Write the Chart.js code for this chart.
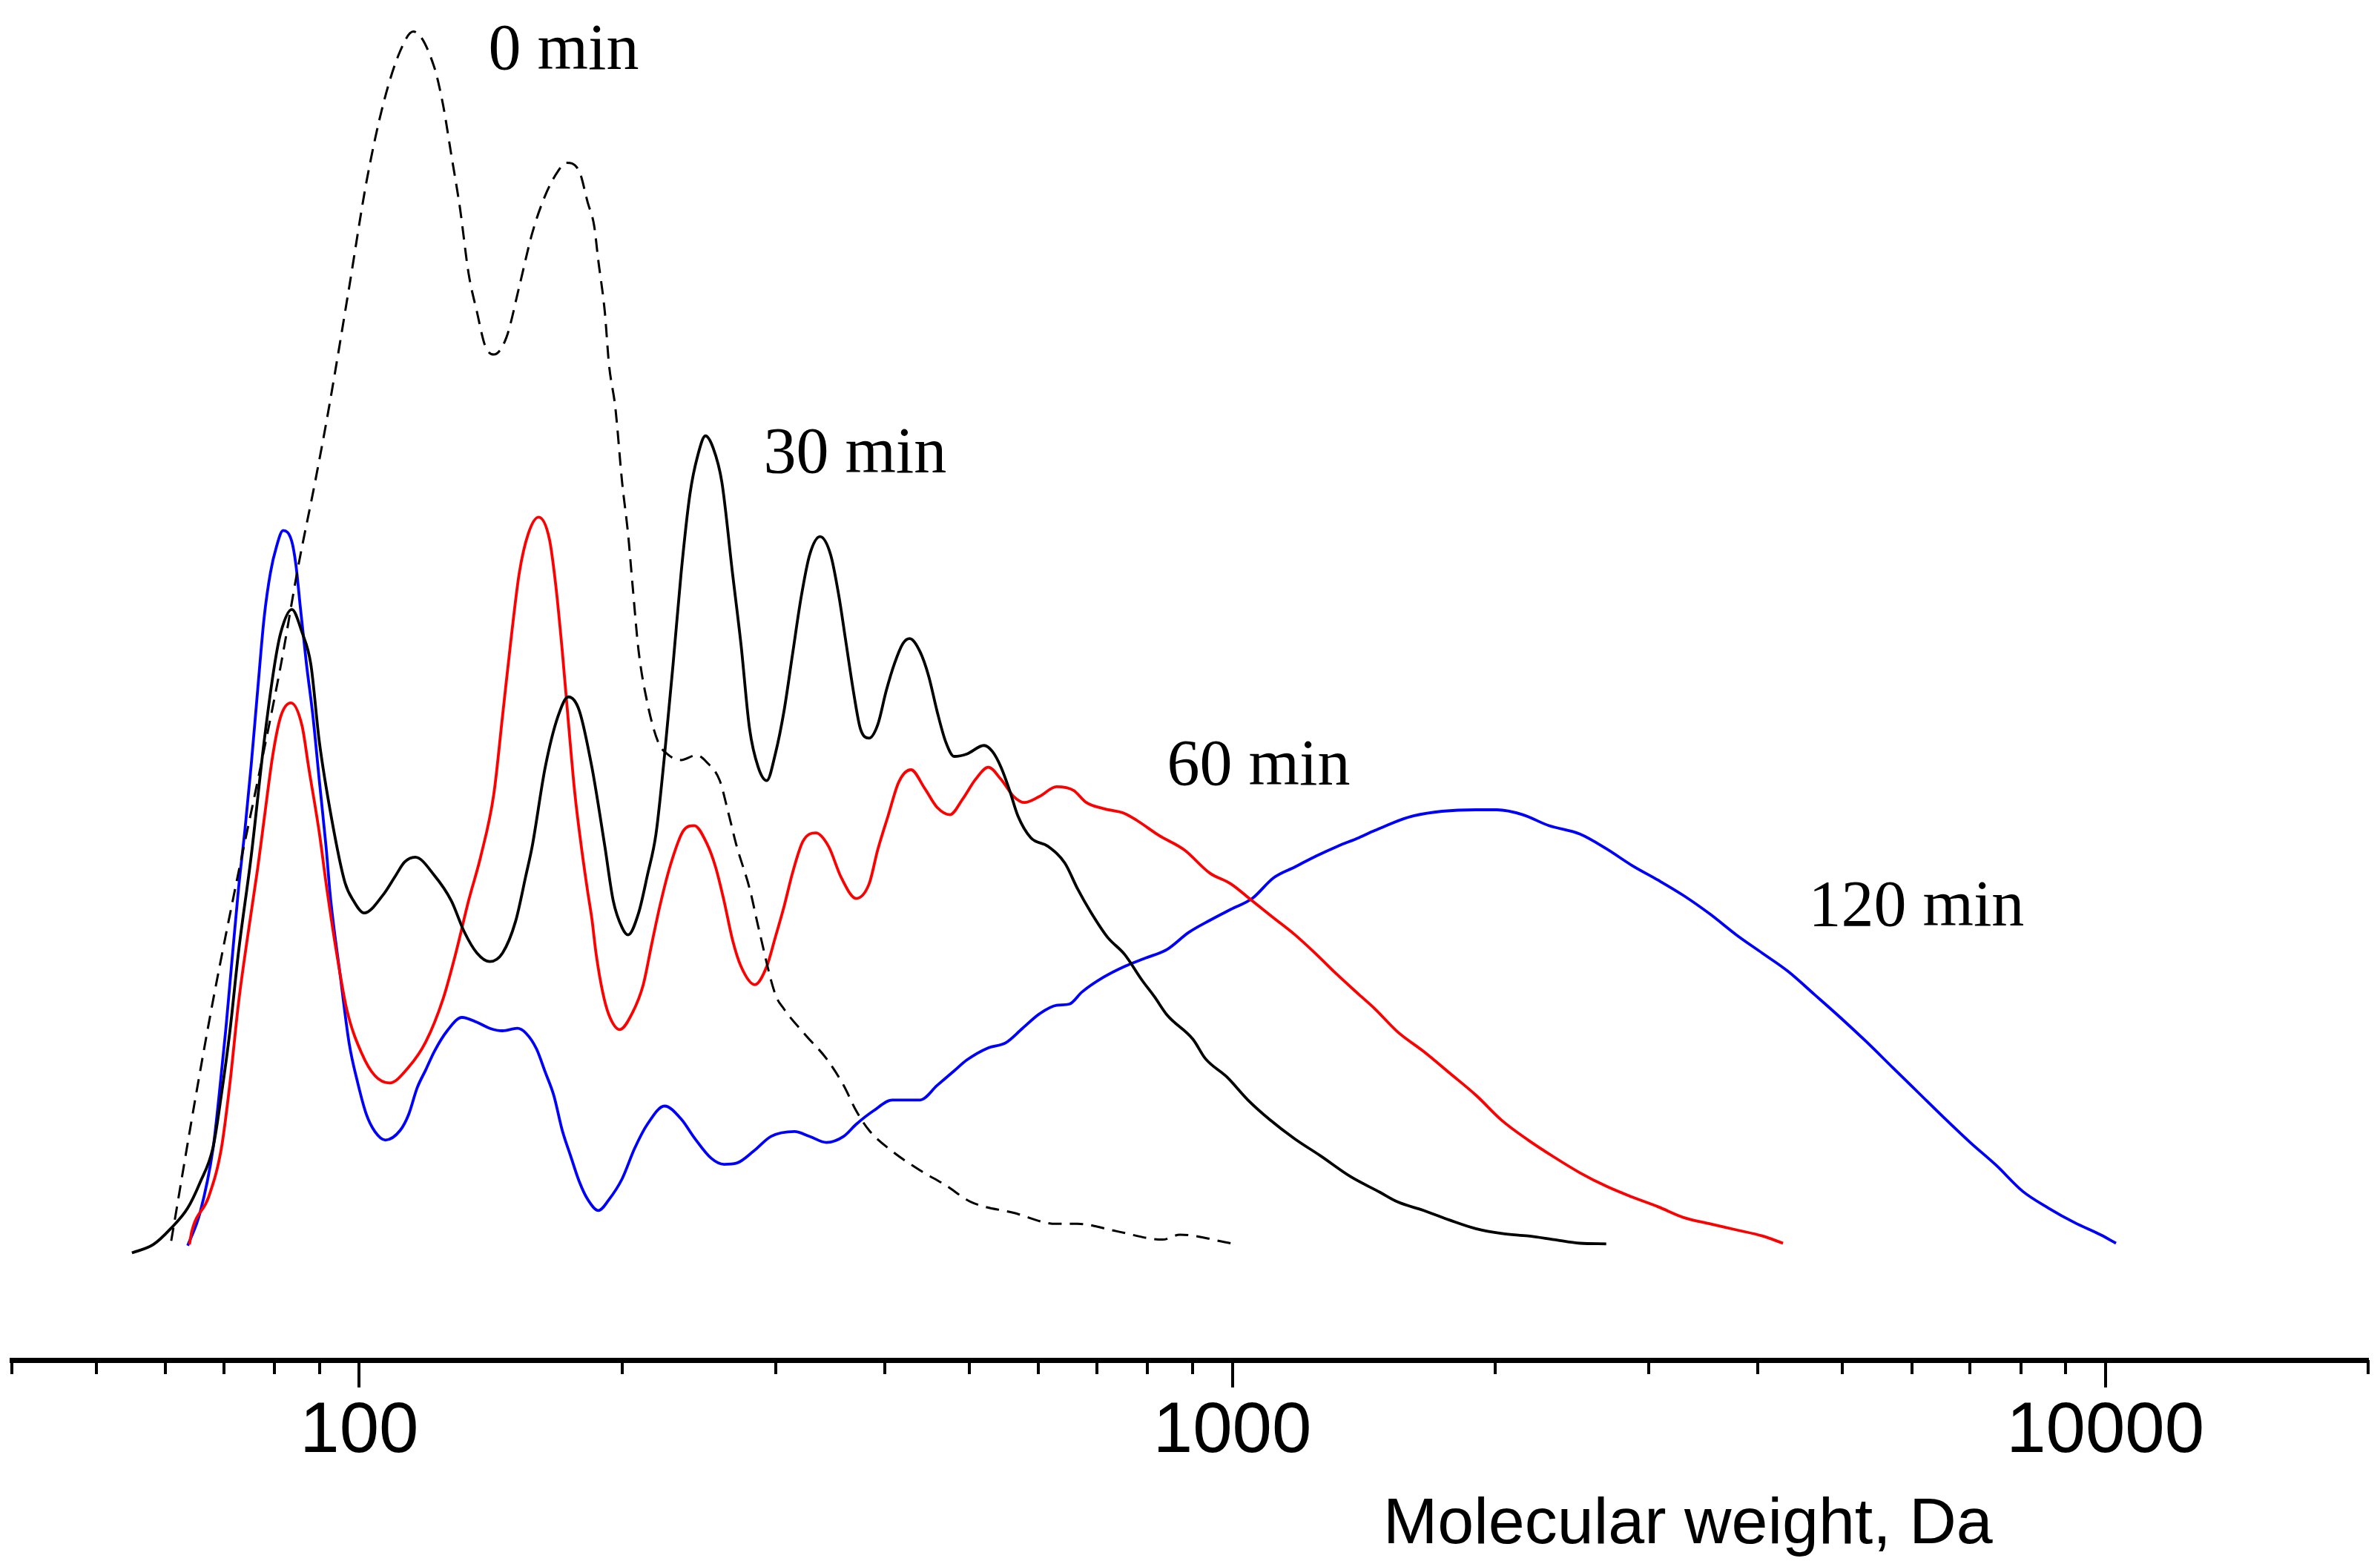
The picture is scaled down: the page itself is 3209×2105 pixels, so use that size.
<!DOCTYPE html>
<html>
<head>
<meta charset="utf-8">
<script src="https://cdn.jsdelivr.net/npm/chart.js@4"></script>
<style>
  html, body { margin: 0; padding: 0; background: #fff; overflow: hidden; }
  #wrap { width: 3209px; height: 2105px; }
</style>
</head>
<body>
<div id="wrap"><canvas id="mwChart"></canvas></div>
<script>
// molecular weight (Da) and relative intensity for each sampling time
const mw0 = [60.9, 65.0, 68.0, 72.6, 76.5, 81.4, 85.1, 89.0, 92.3, 97.4, 101.9, 106.5, 111.4, 115.3, 121.7, 124.7, 127.5, 130.4, 133.4, 136.4, 139.4, 142.6, 147.4, 152.5, 157.8, 163.3, 168.9, 172.7, 178.6, 182.7, 185.8, 187.8, 191.1, 193.2, 196.5, 200, 203.2, 205.6, 208.9, 213.8, 219.9, 226.2, 233.7, 243.3, 250.2, 258.8, 264.6, 270.6, 280, 286.8, 299.6, 306.5, 324, 342.9, 358.8, 370.9, 383.7, 405.8, 439, 469, 502, 562, 628, 665, 736, 832, 871, 996];
const int0 = [0.3, 12.3, 20.1, 30.4, 38.2, 47.9, 55.8, 62.8, 68.9, 78.9, 87.5, 93.9, 98.3, 99.9, 97.1, 93.9, 89.7, 85.4, 80.0, 76.8, 74.0, 73.3, 74.7, 78.9, 83.3, 86.4, 88.4, 89.1, 88.4, 85.8, 83.9, 81.1, 76.8, 72.5, 68.9, 62.8, 58.5, 54.3, 48.9, 44.6, 41.4, 40.3, 39.9, 40.3, 39.7, 38.2, 35.6, 32.8, 29.3, 26.0, 20.6, 19.4, 17.3, 15.3, 13.1, 11.0, 9.4, 7.8, 6.1, 4.9, 3.5, 2.6, 1.7, 1.7, 1.1, 0.4, 0.8, 0.1];

const mw30 = [54.9, 58.1, 60.8, 63.6, 65.7, 68.0, 69.5, 71.1, 72.7, 75.2, 77.8, 80.0, 81.3, 83.7, 86.0, 88.0, 90.0, 93.0, 96.3, 98.5, 101.3, 106.5, 110.1, 112.7, 115.9, 121.9, 127.5, 131.8, 136.4, 141.1, 145.9, 151.0, 155.2, 157.8, 163.3, 168.9, 173.6, 178.6, 184.7, 191.1, 195.4, 200, 203.2, 208.9, 213.8, 218.7, 223.7, 228.8, 233.7, 239.2, 244.2, 249.2, 254.3, 260.2, 267.6, 273.7, 279.9, 286.4, 292.9, 299.6, 306.5, 313.5, 320.7, 328.0, 337.1, 346.7, 354.5, 360.6, 369.0, 374.9, 383.6, 392.5, 401.4, 410.5, 419.5, 427, 439, 449, 459.1, 469.6, 480.2, 496.6, 519.4, 531.2, 543.4, 555.8, 568.1, 587.8, 614.8, 643.1, 664.8, 688.1, 719.6, 752.6, 787.5, 814.5, 841.9, 901.5, 931.6, 985.6, 1042, 1103, 1179, 1262, 1365, 1476, 1547, 1656, 1775, 1901, 2037, 2182, 2336, 2502, 2681];
const int30 = [-0.7, 0, 1.3, 3.0, 5.1, 8.0, 12.3, 17.6, 24.0, 32.0, 41.4, 47.8, 50.4, 52.3, 50.4, 47.8, 41.4, 35.0, 29.8, 28.3, 27.3, 28.8, 30.4, 31.5, 31.9, 30.4, 28.3, 25.8, 24.0, 23.3, 24.0, 26.6, 30.4, 32.8, 39.3, 43.5, 45.1, 44.0, 39.3, 32.8, 28.3, 26.1, 25.5, 27.3, 30.4, 33.8, 40.3, 47.8, 55.3, 61.8, 65.0, 66.6, 65.6, 62.8, 55.3, 49.4, 42.5, 39.3, 38.2, 40.4, 43.9, 48.6, 53.3, 56.8, 58.3, 56.8, 53.3, 49.8, 45.1, 42.5, 41.7, 42.8, 45.6, 47.9, 49.5, 49.9, 48.8, 46.8, 43.9, 41.4, 40.2, 40.4, 41.1, 40.6, 39.3, 37.4, 35.3, 33.5, 32.8, 31.4, 29.3, 27.4, 25.3, 23.9, 21.8, 20.4, 18.9, 16.9, 15.3, 13.8, 11.9, 10.3, 8.7, 7.3, 5.6, 4.3, 3.5, 2.8, 2.0, 1.3, 0.9, 0.7, 0.4, 0.1, 0.05];

const mw60 = [63.9, 64.3, 67.2, 69.5, 71.1, 72.7, 74.4, 76.5, 77.8, 79.6, 81.3, 83.5, 86.0, 87.5, 90.0, 91.8, 94.2, 96.8, 100.7, 104.2, 108.3, 113.9, 119.2, 124.7, 129.0, 133.4, 137.8, 142.6, 145.9, 149.3, 152.5, 156.1, 160.5, 165.1, 167.9, 170.8, 173.6, 176.6, 179.6, 182.7, 184.7, 186.7, 190.0, 193.2, 198.8, 205.6, 211.5, 216.2, 221.0, 227.3, 235.2, 241.9, 250.2, 255.9, 261.7, 267.6, 273.7, 283.8, 292.9, 299.6, 306.5, 313.5, 322.2, 333.4, 344.7, 356.6, 370.9, 383.7, 392.5, 403.4, 415.0, 428.4, 444.0, 459.1, 474.9, 491.2, 507.9, 525.5, 543.4, 561.8, 578.0, 601.4, 629.0, 657.9, 680.4, 711.6, 752.6, 778.5, 823.7, 881, 941.8, 996, 1054, 1115, 1180, 1248, 1320, 1396, 1457, 1547, 1656, 1775, 1901, 2037, 2182, 2336, 2502, 2681, 2872, 3075, 3294, 3527, 3779, 4046, 4274];
const int60 = [0, 1.1, 3.9, 7.9, 13.3, 19.8, 25.1, 31.0, 35.0, 40.3, 43.5, 44.6, 42.7, 39.3, 33.9, 29.3, 24.0, 19.3, 15.7, 13.9, 13.3, 14.6, 16.7, 20.2, 24.0, 28.3, 32.0, 37.1, 43.5, 50.0, 55.3, 58.5, 59.9, 58.1, 54.3, 48.9, 43.0, 37.1, 32.8, 29.0, 26.8, 24.0, 20.8, 18.9, 17.7, 19.1, 21.4, 24.7, 27.9, 31.3, 34.1, 34.5, 33.0, 31.1, 28.3, 25.1, 22.9, 21.4, 22.9, 25.3, 27.8, 30.6, 33.2, 33.9, 32.8, 30.2, 28.5, 29.7, 32.5, 35.3, 38.1, 39.1, 37.6, 36.0, 35.4, 36.7, 38.3, 39.3, 38.3, 36.9, 36.4, 36.9, 37.7, 37.4, 36.4, 35.9, 35.5, 34.9, 33.7, 32.5, 30.6, 29.7, 28.3, 26.9, 25.5, 23.9, 22.2, 20.6, 19.4, 17.5, 15.9, 14.1, 12.3, 10.2, 8.6, 7.2, 5.9, 4.8, 3.9, 3.1, 2.2, 1.7, 1.2, 0.7, 0.1];

const mw120 = [63.6, 65.7, 68.0, 69.1, 70.3, 71.5, 72.7, 74.0, 75.2, 76.5, 77.8, 79.1, 80.4, 81.8, 83.7, 84.6, 85.6, 87.0, 88.5, 90.0, 91.6, 92.7, 95.2, 97.4, 99.6, 101.9, 104.2, 107.1, 111.4, 113.9, 116.5, 119.2, 121.9, 126.1, 131.1, 136.4, 141.1, 145.9, 151.7, 155.2, 159.6, 163.3, 167.0, 170.8, 174.6, 178.6, 182.7, 187.9, 193.2, 200, 206.7, 213.8, 223.7, 233.9, 241.9, 253.0, 261.7, 270.6, 283.1, 296.3, 315.2, 328.0, 342.9, 358.8, 370.9, 388.0, 408.1, 439.0, 459.1, 480.2, 496.6, 525.5, 549.8, 575.0, 601.4, 629.0, 650.6, 672.8, 711.6, 752.6, 796, 841.9, 891.3, 942.6, 996, 1054, 1115, 1180, 1248, 1320, 1396, 1457, 1613, 1901, 2009, 2151, 2304, 2502, 2681, 2872, 3075, 3294, 3527, 3779, 4046, 4330, 4641, 4970, 5324, 5702, 6108, 6543, 7002, 7504, 8035, 8606, 9220, 9872, 10285];
const int120 = [-0.1, 2.6, 7.9, 12.3, 17.6, 23.5, 29.2, 34.3, 39.5, 45.7, 51.6, 55.3, 57.5, 58.8, 57.9, 56.0, 52.5, 47.8, 43.5, 38.2, 32.8, 28.5, 21.9, 16.5, 13.3, 10.7, 9.3, 8.6, 9.4, 10.7, 12.9, 14.4, 15.9, 17.6, 18.7, 18.3, 17.8, 17.6, 17.8, 17.4, 16.1, 14.2, 12.3, 9.4, 7.3, 5.2, 3.7, 2.8, 3.7, 5.4, 7.9, 9.9, 11.4, 10.3, 8.8, 7.1, 6.6, 6.7, 7.7, 8.9, 9.3, 8.9, 8.4, 8.9, 9.9, 11.0, 11.9, 11.9, 13.1, 14.3, 15.2, 16.2, 16.6, 17.8, 19.0, 19.7, 19.8, 20.8, 22.0, 22.9, 23.6, 24.3, 25.7, 26.7, 27.6, 28.5, 30.2, 31.1, 32.0, 32.8, 33.5, 34.1, 35.3, 35.8, 35.8, 35.4, 34.5, 33.8, 32.6, 31.2, 30.0, 28.7, 27.2, 25.5, 24.0, 22.5, 20.6, 18.7, 16.7, 14.6, 12.5, 10.4, 8.4, 6.5, 4.4, 3.0, 1.8, 0.8, 0.1];

// axis ticks
const tickValues = [40, 50, 60, 70, 80, 90, 100, 200, 300, 400, 500, 600, 700, 800, 900,
                    1000, 2000, 3000, 4000, 5000, 6000, 7000, 8000, 9000, 10000, 20000];
const labelledTicks = [100, 1000, 10000];

// curve labels, anchored in data space (MW, intensity)
const curveNames = ['0 min', '30 min', '60 min', '120 min'];
const nameMw = [140.6, 290.4, 842, 4571];
const nameInt = [96.8, 63.6, 37.9, 26.3];

const pts = (xs, ys) => xs.map((x, i) => ({ x, y: ys[i] }));

const marks = {
  id: 'marks',
  afterDraw(chart) {
    const { ctx, scales: { x, y } } = chart;
    ctx.save();
    // tick marks, long ones at the decades
    ctx.strokeStyle = '#000';
    ctx.lineWidth = 4;
    tickValues.forEach(v => {
      const px = Math.round(x.getPixelForValue(v));
      const len = labelledTicks.includes(v) ? 37 : 19;
      ctx.beginPath();
      ctx.moveTo(px, x.top);
      ctx.lineTo(px, x.top + len);
      ctx.stroke();
    });
    // series names
    ctx.fillStyle = '#000';
    ctx.textBaseline = 'alphabetic';
    ctx.textAlign = 'left';
    ctx.font = '88px "Liberation Serif", "Times New Roman", serif';
    curveNames.forEach((t, i) => {
      ctx.fillText(t, x.getPixelForValue(nameMw[i]), y.getPixelForValue(nameInt[i]));
    });
    // axis title
    ctx.font = '88px "Liberation Sans", Arial, sans-serif';
    ctx.fillText('Molecular weight, Da', 1865, 2081);
    ctx.restore();
  }
};

Chart.defaults.font.family = '"Liberation Sans", Arial, sans-serif';
Chart.defaults.color = '#000';

new Chart(document.getElementById('mwChart'), {
  type: 'line',
  data: {
    datasets: [
      { label: '0 min', data: pts(mw0, int0), borderColor: '#000', borderWidth: 3,
        borderDash: [18, 11] },
      { label: '30 min', data: pts(mw30, int30), borderColor: '#000', borderWidth: 3.8 },
      { label: '60 min', data: pts(mw60, int60), borderColor: '#ff0000', borderWidth: 3.8 },
      { label: '120 min', data: pts(mw120, int120), borderColor: '#0000ff', borderWidth: 3.8 }
    ]
  },
  options: {
    responsive: true, maintainAspectRatio: false, animation: false,
    layout: { padding: { left: 16, right: 16, top: 0, bottom: 0 } },
    elements: { point: { radius: 0 }, line: { cubicInterpolationMode: 'monotone', fill: false } },
    datasets: { line: { clip: false } },
    plugins: { legend: { display: false }, tooltip: { enabled: false } },
    scales: {
      x: {
        type: 'logarithmic', min: 40, max: 20000,
        grid: { display: false, drawTicks: true, tickLength: 40 },
        border: { display: true, width: 7, color: '#000' },
        afterBuildTicks: s => { s.ticks = tickValues.map(v => ({ value: v })); },
        afterFit: s => { s.height = 271; s.paddingLeft = 0; s.paddingRight = 0; },
        ticks: {
          autoSkip: false, maxRotation: 0, minRotation: 0, padding: 0,
          font: { size: 96 }, color: '#000',
          callback: v => labelledTicks.includes(v) ? String(v) : ''
        }
      },
      y: { display: false, min: -9.52, max: 102.5 }
    }
  },
  plugins: [marks]
});
</script>
</body>
</html>
